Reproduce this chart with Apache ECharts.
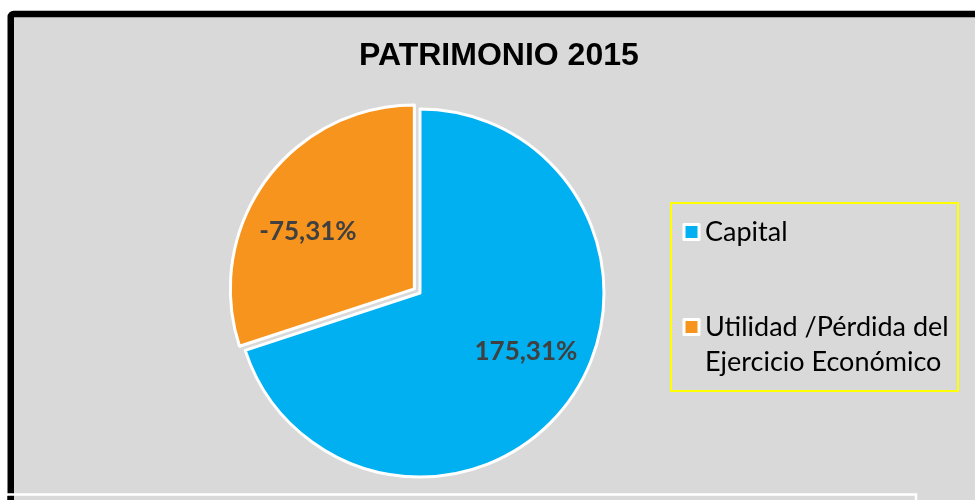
<!DOCTYPE html>
<html>
<head>
<meta charset="utf-8">
<script src="https://cdn.jsdelivr.net/npm/echarts@6/dist/echarts.min.js"></script>
<style>
html,body{margin:0;padding:0;background:#ffffff;}
#chart{width:975px;height:500px;}
</style>
</head>
<body>
<div id="chart"></div>
<script>
// ---- data ----
const titleText = 'PATRIMONIO 2015';
const categories = ['Capital', 'Utilidad /Pérdida del Ejercicio Económico'];
const legendLabels = ['Capital', '\nUtilidad /Pérdida del\nEjercicio Económico'];
const percentValues = [175.31, -75.31];
const sliceColors = ['#00b0f0', '#f7941e'];
const selectedFlags = [false, true];

const fmtPct = v => v.toFixed(2).replace('.', ',') + '%';

const pieData = categories.map((name, i) => ({
  name: name,
  value: Math.abs(percentValues[i]),
  pct: percentValues[i],
  selected: selectedFlags[i],
  itemStyle: { color: sliceColors[i] },
  select: { itemStyle: { color: sliceColors[i], borderColor: '#ffffff', borderWidth: 3 } }
}));

const labelData = categories.map((name, i) => ({
  name: name,
  value: Math.abs(percentValues[i]),
  pct: percentValues[i],
  selected: selectedFlags[i]
}));

const chart = echarts.init(document.getElementById('chart'), null, { renderer: 'canvas' });

const legendText = {
  fontFamily: 'Lato',
  fontSize: 27,
  lineHeight: 35,
  color: '#000000',
  padding: [0, 0, 0, 1]
};

chart.setOption({
  animation: false,
  backgroundColor: 'transparent',
  title: {
    text: titleText,
    left: 359,
    top: 40.5,
    padding: 0,
    textStyle: { fontFamily: 'Liberation Sans', fontWeight: 'bold', fontSize: 32, color: '#000000' }
  },
  legend: [
    {
      data: [categories[0]],
      orient: 'vertical',
      left: 682.5,
      top: 214.5,
      padding: 0,
      itemWidth: 15,
      itemHeight: 15,
      icon: 'rect',
      itemStyle: { borderColor: '#ffffff', borderWidth: 3 },
      selectedMode: false,
      formatter: name => legendLabels[categories.indexOf(name)],
      textStyle: legendText
    },
    {
      data: [categories[1]],
      orient: 'vertical',
      left: 682.5,
      top: 274.5,
      padding: 0,
      itemWidth: 15,
      itemHeight: 15,
      icon: 'rect',
      itemStyle: { borderColor: '#ffffff', borderWidth: 3 },
      selectedMode: false,
      formatter: name => legendLabels[categories.indexOf(name)],
      textStyle: legendText
    }
  ],
  graphic: [
    {
      type: 'rect', z: -100,
      shape: { x: 10.75, y: 14, width: 1100, height: 700, r: 3 },
      style: { fill: '#d9d9d9', stroke: '#000000', lineWidth: 6.5 }
    },
    {
      type: 'rect', z: 100,
      shape: { x: 671, y: 203, width: 287, height: 188 },
      style: { fill: 'none', stroke: '#ffff00', lineWidth: 2 }
    },
    {
      type: 'polyline', z: 100,
      shape: { points: [[7, 494.5], [916, 494.5], [916, 520]] },
      style: { fill: 'none', stroke: '#ffffff', lineWidth: 2.5 }
    },
    {
      type: 'rect', z: 100,
      shape: { x: 7.5, y: 496, width: 6.5, height: 10 },
      style: { fill: '#000000' }
    }
  ],
  series: [
    {
      type: 'pie',
      center: [420, 293],
      radius: [0, 184],
      startAngle: 90,
      clockwise: true,
      selectedMode: 'single',
      selectedOffset: 7,
      silent: true,
      avoidLabelOverlap: false,
      label: { show: false },
      labelLine: { show: false },
      emphasis: { disabled: true },
      itemStyle: { borderColor: '#ffffff', borderWidth: 3 },
      data: pieData
    },
    {
      type: 'pie',
      center: [420, 293],
      radius: [97, 139],
      startAngle: 97,
      clockwise: true,
      selectedMode: 'single',
      selectedOffset: 7,
      silent: true,
      avoidLabelOverlap: false,
      itemStyle: { color: 'rgba(0,0,0,0)', borderWidth: 0 },
      select: { itemStyle: { color: 'rgba(0,0,0,0)', borderWidth: 0 } },
      emphasis: { disabled: true },
      labelLine: { show: false },
      label: {
        show: true,
        position: 'inside',
        formatter: p => fmtPct(p.data.pct),
        fontFamily: 'Lato',
        fontWeight: 'bold',
        fontSize: 26,
        color: '#404040'
      },
      data: labelData
    }
  ]
});
</script>
</body>
</html>
